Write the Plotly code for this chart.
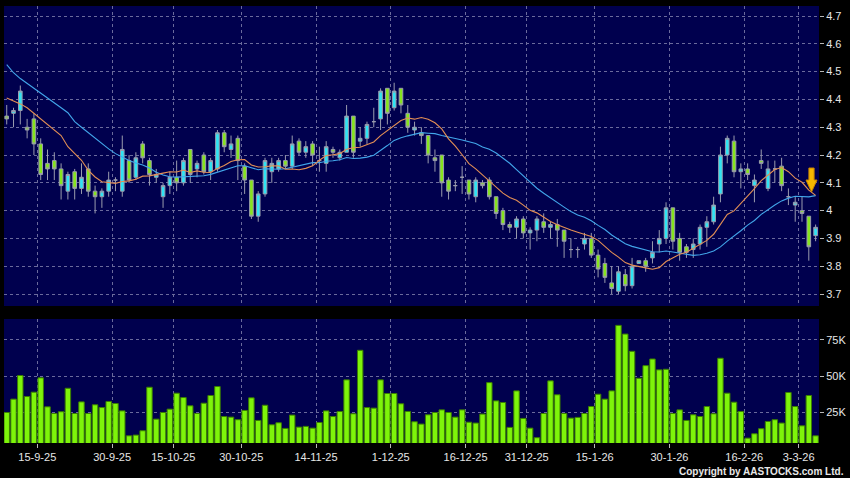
import pandas as pd
import plotly.graph_objects as go

# ---------------- data ----------------
holidays = ["2025-10-01", "2025-10-07", "2025-10-29", "2025-12-25", "2025-12-26",
            "2026-01-01", "2026-02-17", "2026-02-18", "2026-02-19"]
dates = [d.strftime("%Y-%m-%d") for d in pd.bdate_range("2025-09-08", "2026-03-05")
         if d.strftime("%Y-%m-%d") not in holidays]

opens = [4.34, 4.35, 4.36, 4.30, 4.33, 4.24, 4.17, 4.18, 4.15, 4.07,
         4.14, 4.08, 4.15, 4.07, 4.05, 4.07, 4.11, 4.07, 4.18, 4.12,
         4.24, 4.18, 4.12, 4.05, 4.09, 4.12, 4.10, 4.22, 4.15, 4.20,
         4.14, 4.15, 4.28, 4.22, 4.26, 4.16, 4.11, 3.98, 4.06, 4.14,
         4.15, 4.18, 4.16, 4.25, 4.21, 4.24, 4.18, 4.17, 4.22, 4.19,
         4.21, 4.34, 4.25, 4.26, 4.32, 4.33, 4.44, 4.37, 4.44, 4.35,
         4.29, 4.28, 4.27, 4.19, 4.20, 4.11, 4.09, 4.12, 4.11, 4.05,
         4.10, 4.11, 4.05, 4.00, 3.95, 3.94, 3.97, 3.92, 3.93, 3.96,
         3.94, 3.95, 3.93, 3.86, 3.86, 3.88, 3.90, 3.84, 3.81, 3.74,
         3.71, 3.77, 3.73, 3.81, 3.82, 3.83, 3.88, 3.90, 4.01, 3.90,
         3.87, 3.86, 3.88, 3.94, 3.96, 4.06, 4.20, 4.25, 4.14, 4.15,
         4.09, 4.18, 4.08, 4.15, 4.16, 4.05, 4.02, 4.00, 3.98, 3.91]
highs = [4.38, 4.37, 4.45, 4.33, 4.35, 4.26, 4.22, 4.21, 4.17, 4.14,
         4.15, 4.17, 4.17, 4.09, 4.08, 4.14, 4.12, 4.27, 4.20, 4.21,
         4.25, 4.19, 4.15, 4.10, 4.14, 4.18, 4.19, 4.22, 4.18, 4.21,
         4.19, 4.29, 4.29, 4.27, 4.27, 4.17, 4.11, 4.07, 4.19, 4.19,
         4.19, 4.20, 4.27, 4.26, 4.25, 4.25, 4.23, 4.25, 4.23, 4.22,
         4.38, 4.34, 4.30, 4.32, 4.37, 4.44, 4.44, 4.46, 4.44, 4.38,
         4.32, 4.30, 4.27, 4.22, 4.20, 4.12, 4.11, 4.16, 4.11, 4.12,
         4.11, 4.12, 4.05, 4.01, 3.96, 3.98, 3.98, 3.94, 3.98, 3.99,
         3.96, 3.97, 3.93, 3.90, 3.87, 3.92, 3.92, 3.86, 3.83, 3.80,
         3.80, 3.79, 3.83, 3.82, 3.83, 3.89, 3.93, 4.03, 4.01, 3.92,
         3.88, 3.90, 3.95, 3.98, 4.05, 4.23, 4.27, 4.27, 4.17, 4.17,
         4.13, 4.22, 4.18, 4.18, 4.19, 4.08, 4.05, 4.05, 3.98, 3.95]
lows = [4.31, 4.30, 4.31, 4.26, 4.20, 4.11, 4.11, 4.11, 4.04, 4.04,
        4.04, 4.06, 4.05, 3.99, 4.01, 4.05, 4.07, 4.05, 4.10, 4.11,
        4.17, 4.09, 4.10, 4.01, 4.06, 4.07, 4.09, 4.10, 4.12, 4.13,
        4.11, 4.14, 4.21, 4.19, 4.11, 4.06, 3.97, 3.96, 4.05, 4.10,
        4.14, 4.15, 4.15, 4.20, 4.19, 4.16, 4.14, 4.14, 4.19, 4.18,
        4.21, 4.19, 4.23, 4.24, 4.30, 4.29, 4.31, 4.36, 4.35, 4.28,
        4.27, 4.24, 4.17, 4.14, 4.05, 4.04, 4.07, 4.06, 4.04, 4.03,
        4.08, 4.04, 3.97, 3.93, 3.92, 3.90, 3.90, 3.86, 3.89, 3.92,
        3.90, 3.87, 3.83, 3.83, 3.83, 3.86, 3.83, 3.76, 3.74, 3.70,
        3.70, 3.71, 3.72, 3.81, 3.78, 3.81, 3.85, 3.88, 3.86, 3.82,
        3.83, 3.83, 3.86, 3.87, 3.95, 4.03, 4.17, 4.12, 4.08, 4.11,
        4.03, 4.15, 4.07, 4.10, 4.07, 4.02, 3.96, 3.96, 3.82, 3.89]
closes = [4.33, 4.36, 4.43, 4.29, 4.24, 4.13, 4.15, 4.15, 4.09, 4.13,
          4.08, 4.12, 4.07, 4.05, 4.07, 4.11, 4.11, 4.22, 4.11, 4.19,
          4.19, 4.13, 4.13, 4.09, 4.12, 4.10, 4.18, 4.13, 4.17, 4.14,
          4.18, 4.28, 4.23, 4.24, 4.18, 4.11, 3.98, 4.06, 4.18, 4.17,
          4.18, 4.16, 4.24, 4.21, 4.23, 4.20, 4.18, 4.23, 4.21, 4.21,
          4.34, 4.21, 4.26, 4.31, 4.32, 4.43, 4.35, 4.43, 4.38, 4.30,
          4.30, 4.27, 4.20, 4.18, 4.10, 4.07, 4.09, 4.12, 4.06, 4.11,
          4.09, 4.05, 3.99, 3.95, 3.94, 3.97, 3.92, 3.93, 3.97, 3.94,
          3.95, 3.93, 3.89, 3.86, 3.86, 3.90, 3.84, 3.79, 3.76, 3.72,
          3.78, 3.73, 3.80, 3.82, 3.80, 3.85, 3.90, 4.01, 3.89, 3.85,
          3.85, 3.88, 3.94, 3.96, 4.02, 4.20, 4.26, 4.14, 4.15, 4.13,
          4.11, 4.17, 4.15, 4.15, 4.09, 4.05, 4.03, 3.99, 3.87, 3.94]
# moving-average values before enough closes exist
ma10_head = [4.405, 4.395, 4.384, 4.37, 4.35, 4.33, 4.31, 4.29, 4.27]
ma20_head = [4.525, 4.496, 4.475, 4.458, 4.44, 4.424, 4.405, 4.388, 4.37, 4.352,
             4.32, 4.30, 4.28, 4.26, 4.24, 4.222, 4.205, 4.192, 4.18]
volume_k = [25, 34.2, 50.5, 36, 39, 48.9, 28.9, 24.3, 25.5, 41.7,
            24.3, 32.3, 24.3, 30.3, 28.4, 32.6, 31.2, 26.1, 8.9, 9.4,
            12.4, 42.4, 20.4, 25, 27.3, 38.3, 35.3, 29.6, 24.3, 31.4,
            36.7, 42.9, 22.2, 21.8, 20, 26.4, 35.1, 19.5, 30, 16.5,
            17.9, 14, 23.2, 14.9, 15.4, 14.2, 18.1, 26.1, 22.2, 25.7,
            47.5, 24.1, 67.9, 28.4, 28, 47.5, 38.1, 38.1, 31, 25.7,
            18.6, 17, 23.4, 25, 26.8, 25, 21.8, 26.8, 18.3, 17.7,
            23.9, 45.6, 33, 31.9, 14.7, 39.9, 20.9, 14.2, 7.6, 24.3,
            46.8, 37.2, 24.3, 21.1, 21.6, 24.3, 29.1, 37.6, 34.2, 39.9,
            85.1, 79.1, 67.2, 48.6, 57.3, 61.9, 54.4, 54.8, 24.3, 26.8,
            19.5, 23.4, 22.2, 29.1, 24.1, 62.4, 38.3, 32.1, 25.7, 7.3,
            10.3, 13.8, 18.8, 20, 17.7, 38.8, 29.1, 15.8, 36.7, 8.9]

tick_dates = ["2025-09-15", "2025-09-30", "2025-10-15", "2025-10-30", "2025-11-14",
              "2025-12-01", "2025-12-16", "2025-12-31", "2026-01-15", "2026-01-30",
              "2026-02-16", "2026-03-03"]
tick_labels = ["15-9-25", "30-9-25", "15-10-25", "30-10-25", "14-11-25", "1-12-25",
               "16-12-25", "31-12-25", "15-1-26", "30-1-26", "16-2-26", "3-3-26"]
price_ticks = [3.7, 3.8, 3.9, 4.0, 4.1, 4.2, 4.3, 4.4, 4.5, 4.6, 4.7]
price_tick_text = ["3.7", "3.8", "3.9", "4", "4.1", "4.2", "4.3", "4.4", "4.5", "4.6", "4.7"]
vol_ticks = [25000, 50000, 75000]
vol_tick_text = ["25K", "50K", "75K"]

# ---------------- derived ----------------
xi = list(range(len(dates)))
cs = pd.Series(closes)
ma10 = ma10_head + cs.rolling(10).mean().tolist()[9:]
ma20 = ma20_head + cs.rolling(20).mean().tolist()[19:]
volume = [v * 1000 for v in volume_k]
tick_pos = [dates.index(d) - 0.5 for d in tick_dates]

# ---------------- styling ----------------
GRID = "#6a6a9c"
TXT = "#e6e6e6"
FONT = "Liberation Sans, Arial, sans-serif"

fig = go.Figure()
fig.add_trace(go.Candlestick(
    x=xi, open=opens, high=highs, low=lows, close=closes,
    increasing=dict(fillcolor="#2ee4f4", line=dict(color="#9a9cae", width=1)),
    decreasing=dict(fillcolor="#86e41e", line=dict(color="#9a9cae", width=1)),
    whiskerwidth=0, xaxis="x", yaxis="y", showlegend=False,
    customdata=dates, hoverinfo="skip"))
fig.add_trace(go.Scatter(x=xi, y=ma20, mode="lines", line=dict(color="#42a6ea", width=1.1),
                         xaxis="x", yaxis="y", hoverinfo="skip"))
fig.add_trace(go.Scatter(x=xi, y=ma10, mode="lines", line=dict(color="#e38f55", width=1.1),
                         xaxis="x", yaxis="y", hoverinfo="skip"))
fig.add_trace(go.Bar(x=xi, y=volume, marker=dict(color="#7ef40a", line=dict(color="#3b7f00", width=1)),
                     xaxis="x2", yaxis="y2", hoverinfo="skip"))

# down arrow marker (decoration), defined in pixel space and mapped to data space
def px2x(px):
    return (px - 6.7) / 6.8

def py2y(py):
    return 4.7 - (py - 16) / 278.0

arrow_px = [(809.2, 168), (814.4, 168), (814.4, 180), (817.3, 180), (811.8, 192),
            (806.3, 180), (809.2, 180)]
path = "M " + " L ".join(f"{px2x(a):.4f},{py2y(b):.4f}" for a, b in arrow_px) + " Z"
fig.add_shape(type="path", path=path, xref="x", yref="y",
              fillcolor="#f6b800", line=dict(color="#c98400", width=1))

fig.update_layout(
    width=850, height=478,
    margin=dict(l=4, r=31, t=6, b=35),
    paper_bgcolor="#000000", plot_bgcolor="#00004e",
    showlegend=False, bargap=0.2, boxgap=0.24,
    font=dict(family=FONT, color=TXT, size=11),
    xaxis=dict(domain=[0, 1], anchor="y", range=[-0.4, 119.5],
               tickmode="array", tickvals=tick_pos, showticklabels=False, ticks="",
               showgrid=True, gridcolor=GRID, griddash="3px,3px", gridwidth=1,
               zeroline=False, showline=False, rangeslider=dict(visible=False)),
    xaxis2=dict(domain=[0, 1], anchor="y2", range=[-0.4, 119.5], matches="x",
                tickmode="array", tickvals=tick_pos, ticktext=tick_labels,
                ticks="outside", ticklen=4, tickcolor="#b8b8b8",
                tickfont=dict(family=FONT, color=TXT, size=11),
                showgrid=True, gridcolor=GRID, griddash="3px,3px", gridwidth=1,
                zeroline=False, showline=False),
    yaxis=dict(domain=[0.3135, 1], anchor="x", side="right", range=[3.657, 4.736],
               tickmode="array", tickvals=price_ticks, ticktext=price_tick_text,
               ticks="outside", ticklen=4, tickcolor="#b8b8b8",
               tickfont=dict(family=FONT, color=TXT, size=11),
               showgrid=True, gridcolor=GRID, griddash="3px,3px", gridwidth=1,
               zeroline=False, showline=False),
    yaxis2=dict(domain=[0, 0.2838], anchor="x2", side="right", range=[3940, 89500],
                tickmode="array", tickvals=vol_ticks, ticktext=vol_tick_text,
                ticks="outside", ticklen=4, tickcolor="#b8b8b8",
                tickfont=dict(family=FONT, color=TXT, size=11),
                showgrid=True, gridcolor=GRID, griddash="3px,3px", gridwidth=1,
                zeroline=False, showline=False),
    annotations=[dict(text="<b>Copyright by AASTOCKS.com Ltd.</b>", xref="paper", yref="paper",
                      x=1.033, y=-0.066, xanchor="right", yanchor="middle", showarrow=False,
                      font=dict(family=FONT, color="#e8e8e8", size=10))],
)

fig.write_html("out.html", config={"displayModeBar": False},
               post_script="document.body.style.margin='0px';document.body.style.background='#000';")
